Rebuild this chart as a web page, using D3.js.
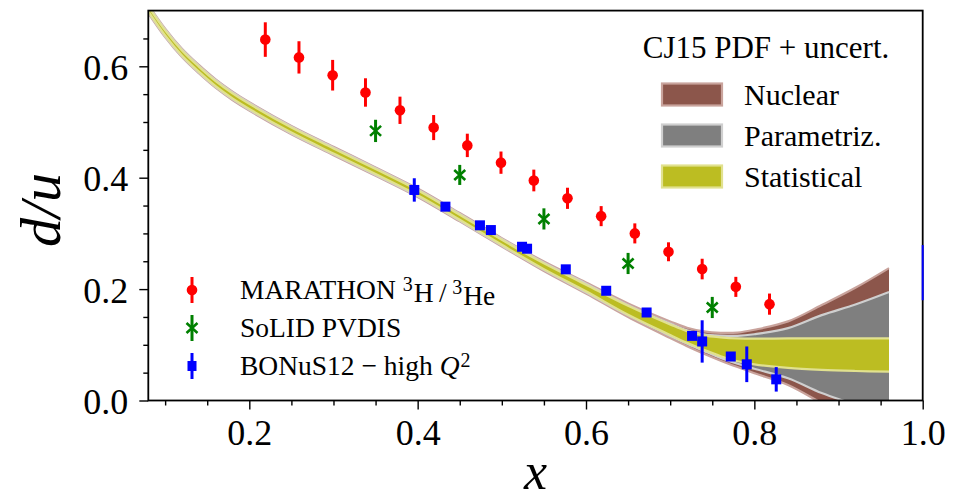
<!DOCTYPE html>
<html>
<head>
<meta charset="utf-8">
<script src="https://cdn.jsdelivr.net/npm/d3@7"></script>
<style>
    body { margin: 0; background: #fff; }
    svg { display: block; }
    text { font-family: "Liberation Serif", "Times New Roman", serif; fill: #000; }
</style>
</head>
<body>
<div id="chart"></div>
<script>
// MARATHON 3H/3He points
var marathonX = [0.219, 0.259, 0.299, 0.338, 0.379, 0.419, 0.459, 0.499, 0.538, 0.578, 0.618, 0.658, 0.698, 0.738, 0.778, 0.818];
var marathonY = [0.648, 0.616, 0.584, 0.553, 0.521, 0.490, 0.458, 0.427, 0.395, 0.363, 0.331, 0.300, 0.267, 0.236, 0.204, 0.173];
var marathonErr = [0.031, 0.029, 0.0275, 0.0255, 0.0245, 0.0225, 0.021, 0.020, 0.0195, 0.019, 0.018, 0.018, 0.017, 0.0185, 0.018, 0.019];

// SoLID PVDIS points
var solidX = [0.35, 0.45, 0.55, 0.65, 0.75];
var solidY = [0.484, 0.405, 0.326, 0.246, 0.167];
var solidErr = [0.02, 0.018, 0.019, 0.019, 0.019];

// BONuS12 high Q2 points
var bonusX = [0.396, 0.433, 0.474, 0.487, 0.524, 0.530, 0.576, 0.624, 0.672, 0.726, 0.738, 0.772, 0.791, 0.826];
var bonusY = [0.378, 0.348, 0.3145, 0.306, 0.276, 0.2725, 0.2355, 0.197, 0.158, 0.116, 0.106, 0.079, 0.065, 0.038];
var bonusErr = [0.021, 0.006, 0.006, 0.006, 0.006, 0.006, 0.006, 0.006, 0.006, 0.006, 0.038, 0.006, 0.032, 0.022];
// error bar sitting on the right spine
var edgeBar = { x: 1.0, lo: 0.18, hi: 0.279 };

// CJ15 d/u central value and half widths of the three bands
var bandX = [0.08, 0.10, 0.12, 0.14, 0.16, 0.18, 0.20, 0.25, 0.30, 0.35, 0.40, 0.45, 0.50, 0.55, 0.60, 0.65, 0.70, 0.72, 0.74, 0.76, 0.78, 0.80, 0.84, 0.88, 0.92, 0.96];
var bandC = [0.703, 0.660, 0.624, 0.595, 0.569, 0.547, 0.528, 0.4855, 0.448, 0.411, 0.373, 0.329, 0.284, 0.241, 0.202, 0.162, 0.127, 0.114, 0.104, 0.0965, 0.091, 0.088, 0.085, 0.0833, 0.0823, 0.0817];
var statErr = [0.0045, 0.0045, 0.0045, 0.0045, 0.0045, 0.0045, 0.0045, 0.0045, 0.0045, 0.0045, 0.0045, 0.0045, 0.0045, 0.0052, 0.006, 0.008, 0.0095, 0.0105, 0.013, 0.017, 0.0205, 0.023, 0.0265, 0.0283, 0.0293, 0.030];
var paramErr = [0.006, 0.006, 0.006, 0.006, 0.006, 0.006, 0.006, 0.006, 0.006, 0.006, 0.006, 0.006, 0.006, 0.0065, 0.0078, 0.0092, 0.011, 0.012, 0.015, 0.020, 0.025, 0.031, 0.045, 0.070, 0.090, 0.113];
var nuclErr = [0.0075, 0.0075, 0.0075, 0.0075, 0.0075, 0.0075, 0.0075, 0.0075, 0.0075, 0.0075, 0.0075, 0.0075, 0.0075, 0.0085, 0.010, 0.0123, 0.015, 0.0165, 0.020, 0.025, 0.031, 0.039, 0.057, 0.088, 0.120, 0.156];

var xTicks = [0.2, 0.4, 0.6, 0.8, 1.0];
var yTicks = [0.0, 0.2, 0.4, 0.6];
var xMinor = [0.1, 0.15, 0.25, 0.3, 0.35, 0.45, 0.5, 0.55, 0.65, 0.7, 0.75, 0.85, 0.9, 0.95];
var yMinor = [0.05, 0.1, 0.15, 0.25, 0.3, 0.35, 0.45, 0.5, 0.55, 0.65];

var bandNames = ["Nuclear", "Parametriz.", "Statistical"];
var bandFill = ["#8c564b", "#7f7f7f", "#bcbd22"];
var bandEdge = ["#c9a39c", "#cfcfcf", "#e1e18f"];

var W = 959, H = 501;
var margin = { left: 148.3, right: 36.3, top: 10.6, bottom: 100.5 };
var width = W - margin.left - margin.right;
var height = H - margin.top - margin.bottom;

var svg = d3.select('#chart')
    .append('svg')
    .attr('width', W)
    .attr('height', H);

var g = svg.append('g')
    .attr("transform", "translate(" + margin.left + "," + margin.top + ")");

var x = d3.scaleLinear().domain([0.08, 1.0]).range([0, width]);
var y = d3.scaleLinear().domain([0, 0.7]).range([height, 0]);

svg.append("defs").append("clipPath").attr("id", "plotclip")
    .append("rect").attr("width", width).attr("height", height);

// bands
var band = bandX.map(function (v, i) {
    return { x: v, c: bandC[i], e: [nuclErr[i], paramErr[i], statErr[i]] };
});
var bandg = g.append('g').attr("clip-path", "url(#plotclip)");
[0, 1, 2].forEach(function (k) {
    var area = d3.area()
        .x(d => x(d.x))
        .y0(d => y(d.c - d.e[k]))
        .y1(d => y(d.c + d.e[k]))
        .curve(d3.curveCatmullRom.alpha(0.5));
    bandg.append("path").datum(band)
        .attr("d", area)
        .attr("fill", bandFill[k]);
    [-1, 1].forEach(function (s) {
        var line = d3.line()
            .x(d => x(d.x))
            .y(d => y(d.c + s * d.e[k]))
            .curve(d3.curveCatmullRom.alpha(0.5));
        bandg.append("path").datum(band)
            .attr("d", line)
            .attr("fill", "none")
            .attr("stroke", bandEdge[k])
            .attr("stroke-width", 2.2);
    });
});

// axes
var xAxis = d3.axisBottom(x).tickValues(xTicks).tickSize(9).tickFormat(d3.format(".1f"));
var xAxisMinor = d3.axisBottom(x).tickValues(xMinor).tickSize(5).tickFormat("");
var yAxis = d3.axisLeft(y).tickValues(yTicks).tickSize(9).tickPadding(11).tickFormat(d3.format(".1f"));
var yAxisMinor = d3.axisLeft(y).tickValues(yMinor).tickSize(5).tickFormat("");

var gX = g.append("g").attr("transform", "translate(0," + height + ")").call(xAxis);
g.append("g").attr("transform", "translate(0," + height + ")").call(xAxisMinor);
var gY = g.append("g").call(yAxis);
g.append("g").call(yAxisMinor);

g.selectAll(".domain").remove();
g.selectAll(".tick line").attr("stroke", "#000").attr("stroke-width", 1.4);
gX.selectAll("text").attr("y", 44).attr("dy", null).style("font-size", "36px");
gY.selectAll("text").attr("dy", "0.36em").style("font-size", "36px");
g.selectAll(".tick text").attr("font-family", null).attr("font-size", null).attr("fill", "#000");

g.append("rect")
    .attr("width", width).attr("height", height)
    .attr("fill", "none").attr("stroke", "#000").attr("stroke-width", 1.8);

// data points
var pts = g.append('g');

function errorBars(xs, ys, es, color) {
    pts.selectAll(null)
        .data(xs.map((v, i) => ({ x: v, y: ys[i], e: es[i] })))
        .enter().append("line")
        .attr("x1", d => x(d.x)).attr("x2", d => x(d.x))
        .attr("y1", d => y(d.y - d.e)).attr("y2", d => y(d.y + d.e))
        .attr("stroke", color).attr("stroke-width", 3);
}

errorBars(marathonX, marathonY, marathonErr, "#ff0000");
pts.selectAll(null)
    .data(marathonX.map((v, i) => ({ x: v, y: marathonY[i] })))
    .enter().append("circle")
    .attr("cx", d => x(d.x)).attr("cy", d => y(d.y))
    .attr("r", 5.3).attr("fill", "#ff0000");

errorBars(solidX, solidY, solidErr, "#008000");
pts.selectAll(null)
    .data(solidX.map((v, i) => ({ x: v, y: solidY[i] })))
    .enter().append("path")
    .attr("transform", d => "translate(" + x(d.x) + "," + y(d.y) + ")")
    .attr("d", "M-5.5,-5L5.5,5M-5.5,5L5.5,-5")
    .attr("stroke", "#008000").attr("stroke-width", 2.6).attr("fill", "none");

errorBars(bonusX, bonusY, bonusErr, "#0000ff");
pts.selectAll(null)
    .data(bonusX.map((v, i) => ({ x: v, y: bonusY[i] })))
    .enter().append("rect")
    .attr("x", d => x(d.x) - 5).attr("y", d => y(d.y) - 5)
    .attr("width", 10).attr("height", 10)
    .attr("fill", "#0000ff");

pts.append("line")
    .attr("x1", x(edgeBar.x)).attr("x2", x(edgeBar.x))
    .attr("y1", y(edgeBar.lo)).attr("y2", y(edgeBar.hi))
    .attr("stroke", "#0000ff").attr("stroke-width", 2);

// right legend (bands)
var leg = svg.append('g');
leg.append("text")
    .attr("x", 766).attr("y", 58)
    .attr("text-anchor", "middle")
    .style("font-size", "31px")
    .text("CJ15 PDF + uncert.");
bandNames.forEach(function (name, i) {
    var cy = 94.5 + i * 41;
    leg.append("rect")
        .attr("x", 662).attr("y", cy - 11)
        .attr("width", 60).attr("height", 22)
        .attr("fill", bandFill[i])
        .attr("stroke", bandEdge[i]).attr("stroke-width", 2.2);
    leg.append("text")
        .attr("x", 744).attr("y", cy + 10)
        .style("font-size", "30px")
        .text(name);
});

// left legend (data)
var leg2 = svg.append('g');
var lx = 192;
var rows = [290, 328, 366];

leg2.append("line").attr("x1", lx).attr("x2", lx).attr("y1", rows[0] - 13).attr("y2", rows[0] + 13)
    .attr("stroke", "#ff0000").attr("stroke-width", 3);
leg2.append("circle").attr("cx", lx).attr("cy", rows[0]).attr("r", 5.3).attr("fill", "#ff0000");

leg2.append("line").attr("x1", lx).attr("x2", lx).attr("y1", rows[1] - 13).attr("y2", rows[1] + 13)
    .attr("stroke", "#008000").attr("stroke-width", 3);
leg2.append("path").attr("transform", "translate(" + lx + "," + rows[1] + ")")
    .attr("d", "M-5.5,-5L5.5,5M-5.5,5L5.5,-5")
    .attr("stroke", "#008000").attr("stroke-width", 2.6);

leg2.append("line").attr("x1", lx).attr("x2", lx).attr("y1", rows[2] - 13).attr("y2", rows[2] + 13)
    .attr("stroke", "#0000ff").attr("stroke-width", 3);
leg2.append("rect").attr("x", lx - 4.5).attr("y", rows[2] - 5).attr("width", 9).attr("height", 10).attr("fill", "#0000ff");

var t1 = leg2.append("text").attr("x", 240).attr("y", rows[0] + 9).style("font-size", "27.5px");
t1.append("tspan").text("MARATHON ");
t1.append("tspan").attr("dy", "-0.42em").style("font-size", "20px").text("3");
t1.append("tspan").attr("dy", "0.42em").attr("dx", 1).text("H\u2009/\u2009");
t1.append("tspan").attr("dy", "-0.42em").style("font-size", "20px").text("3");
t1.append("tspan").attr("dy", "0.42em").attr("dx", 1).text("He");

leg2.append("text").attr("x", 240).attr("y", rows[1] + 9).style("font-size", "27.5px").text("SoLID PVDIS");

var t3 = leg2.append("text").attr("x", 240).attr("y", rows[2] + 9).style("font-size", "27.5px");
t3.append("tspan").text("BONuS12 \u2212 high ");
t3.append("tspan").style("font-style", "italic").text("Q");
t3.append("tspan").attr("dy", "-0.42em").attr("dx", 1).style("font-size", "20px").text("2");

// axis titles
svg.append("text")
    .attr("x", x(0.54) + margin.left).attr("y", 489)
    .attr("text-anchor", "middle")
    .style("font-size", "52px").style("font-style", "italic")
    .text("x");

svg.append("text")
    .attr("transform", "translate(60,210) rotate(-90)")
    .attr("text-anchor", "middle")
    .style("font-size", "58px").style("font-style", "italic")
    .text("d/u");
</script>
</body>
</html>
